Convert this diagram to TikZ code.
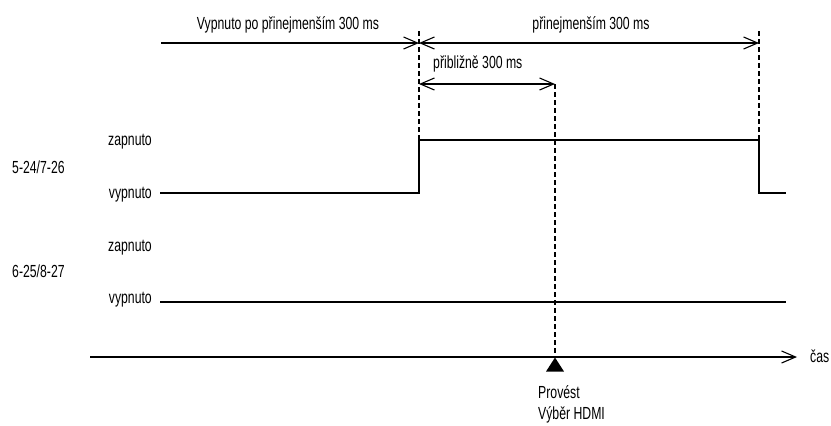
\documentclass[tikz,border=0pt]{standalone}
\usepackage{fontspec}
\setmainfont{Liberation Sans}[FakeStretch=0.7]
\usetikzlibrary{arrows.meta,shapes.geometric}
\tikzset{
  wave/.style = {line width=1.1pt},
  guide/.style = {line width=1.1pt, dash pattern=on 5pt off 3pt},
  lbl/.style = {font=\fontsize{17.5}{21}\selectfont, inner sep=0pt},
}
\begin{document}
\begin{tikzpicture}[x = 1pt, y = -1pt, >={Straight Barb[length=14pt,width=12pt]}]
\useasboundingbox (0,0) rectangle (831,426);
\coordinate (off0) at (161,43);
\coordinate (on0) at (419,43);
\coordinate (on1) at (759,43);
\coordinate (apx0) at (419,84);
\coordinate (apx1) at (555,84);
\coordinate (ax0) at (90,357);
\coordinate (ax1) at (797,357);
\coordinate (run) at (555,357);
\draw[wave, ->] (off0) -- (on0);
\draw[wave, <->] (on0) -- (on1);
\draw[wave, <->] (apx0) -- (apx1);
\node[lbl, anchor = base] (offtxt) at (288,29) {Vypnuto po přinejmenším 300 ms};
\node[lbl, anchor = base] (ontxt) at (591,29) {přinejmenším 300 ms};
\node[lbl, anchor = base west] (apxtxt) at (433,68) {přibližně 300 ms};
\foreach \x in {419, 759}
{
	\draw[guide] (\x,31) -- (\x,140);
}
\draw[guide] (apx1) -- (run);
\draw[wave] (160,193) -- (419,193) -- (419,140) -- (759,140) -- (759,193) -- (786,193);
\draw[wave] (160,302) -- (786,302);
\foreach \y/\name/\txt in {145/on1/zapnuto, 198/off1/vypnuto, 251/on2/zapnuto, 303/off2/vypnuto}
{
	\node[lbl, anchor = base east] (\name) at (152,\y) {\txt};
}
\node[lbl, anchor = base west] (pin1) at (12,173) {5-24/7-26};
\node[lbl, anchor = base west] (pin2) at (12,277) {6-25/8-27};
\draw[wave, ->] (ax0) -- (ax1);
\node[lbl, anchor = base west] (time) at (810,362) {čas};
\node[isosceles triangle, shape border rotate = 90, fill = black, anchor = apex,
      minimum height = 14pt, minimum width = 18pt, inner sep = 0pt,
      isosceles triangle stretches] (mark) at (run) {};
\node[lbl, anchor = base west] (exec1) at (538,398) {Provést};
\node[lbl, anchor = base west] (exec2) at (538,419) {Výběr HDMI};
\end{tikzpicture}
\end{document}
